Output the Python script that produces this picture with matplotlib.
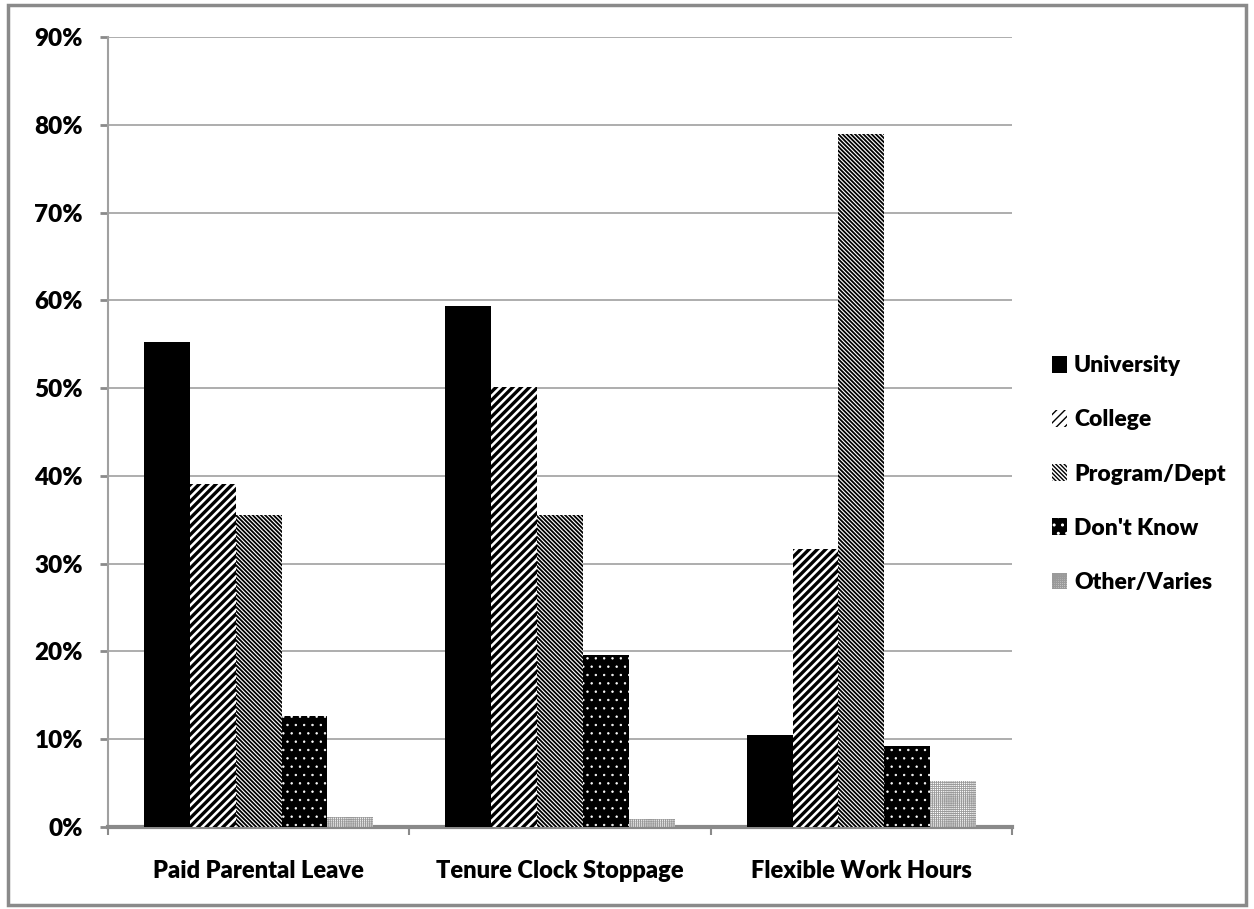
import numpy as np
import matplotlib
matplotlib.use("Agg")
import matplotlib.pyplot as plt
from matplotlib.ticker import PercentFormatter, FixedLocator
from matplotlib.patches import Rectangle

categories = ["Paid Parental Leave", "Tenure Clock Stoppage", "Flexible Work Hours"]
series_names = ["University", "College", "Program/Dept", "Don't Know", "Other/Varies"]
university = [55.2, 59.3, 10.5]
college = [39.1, 50.1, 31.7]
program_dept = [35.6, 35.6, 78.9]
dont_know = [12.6, 19.6, 9.2]
other_varies = [1.1, 0.9, 5.2]
y_ticks = [0, 10, 20, 30, 40, 50, 60, 70, 80, 90]

series = [university, college, program_dept, dont_know, other_varies]
styles = [
    dict(facecolor="black", edgecolor="black", hatch=None, hlw=1.0),
    dict(facecolor="white", edgecolor="black", hatch="////", hlw=2.4),
    dict(facecolor="white", edgecolor="black", hatch="\\" * 8, hlw=1.3),
    dict(facecolor="black", edgecolor="white", hatch="..", hlw=0.5),
    dict(facecolor="white", edgecolor="#9a9a9a", hatch="+" * 8, hlw=0.6),
]

plt.rcParams['font.family'] = ['Lato', 'DejaVu Sans']
plt.rcParams['font.weight'] = 'heavy'

fig = plt.figure(figsize=(12.54, 9.09), dpi=100)
ax = fig.add_axes([108/1254, 1-827/909, (1012-108)/1254, (827-37)/909])

x = np.arange(len(categories))
width = 0.152
handles = []
for i, (vals, st) in enumerate(zip(series, styles)):
    with plt.rc_context({'hatch.linewidth': st['hlw']}):
        bars = ax.bar(x + (i - 2) * width, vals, width, facecolor=st['facecolor'],
                      edgecolor=st['edgecolor'], hatch=st['hatch'], linewidth=0,
                      label=series_names[i], zorder=3)
        for b in bars:
            if hasattr(b, 'set_hatch_linewidth'):
                b.set_hatch_linewidth(st['hlw'])
    handles.append(bars)

ax.set_xlim(-0.5, len(categories) - 0.5)
ax.set_ylim(0, 90)
ax.yaxis.set_major_locator(FixedLocator(y_ticks))
ax.yaxis.set_major_formatter(PercentFormatter(decimals=0))
ax.grid(axis='y', color='#a0a0a0', linewidth=1.2, zorder=0)
ax.set_axisbelow(True)

ax.set_xticks(x)
ax.set_xticklabels(categories)
ax.xaxis.set_minor_locator(FixedLocator(np.arange(-0.5, len(categories), 1.0)))
ax.tick_params(axis='x', which='major', length=0, pad=24, labelsize=17)
ax.tick_params(axis='x', which='minor', length=6, width=1.5, color='#8a8a8a', direction='out')
ax.tick_params(axis='y', which='major', length=6, width=2, color='#8a8a8a', pad=12, labelsize=17.5)

for s in ['top', 'right']:
    ax.spines[s].set_visible(False)
ax.spines['left'].set_color('#a0a0a0')
ax.spines['left'].set_linewidth(1.5)
ax.spines['bottom'].set_color('#8a8a8a')
ax.spines['bottom'].set_linewidth(3)

leg = fig.legend(handles=handles, labels=series_names, loc='upper left',
                 bbox_to_anchor=(1043/1254, 1-346/909), frameon=False,
                 fontsize=16.5, handlelength=0.65, handleheight=0.75,
                 handletextpad=0.3, labelspacing=1.45, borderaxespad=0)

fig.patches.append(Rectangle((8/1254, 1-905/909), (1246-8)/1254, (905-5)/909,
                             transform=fig.transFigure, fill=False,
                             edgecolor='#8a8a8a', linewidth=2.5))

fig.savefig("out.png", dpi=100, facecolor='white')
